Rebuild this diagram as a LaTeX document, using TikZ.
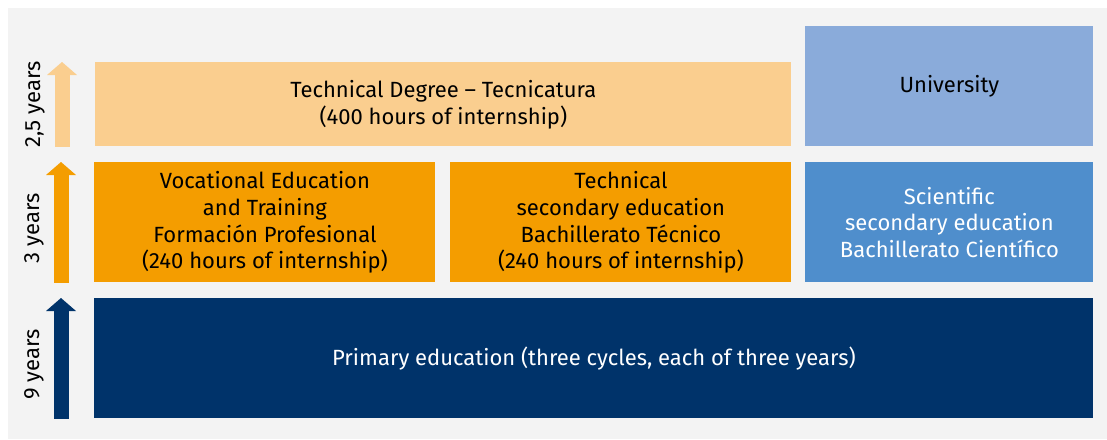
\documentclass[tikz,border=0pt]{standalone}
\usepackage{fontspec}
\setmainfont{Fira Sans}
\usetikzlibrary{arrows.meta}
\definecolor{bggray}{HTML}{F3F3F3}
\definecolor{ltorange}{HTML}{FACE8F}
\definecolor{midorange}{HTML}{F49D00}
\definecolor{navy}{HTML}{00336A}
\definecolor{ltblue}{HTML}{8AABDA}
\definecolor{midblue}{HTML}{4F8ECC}
\tikzset{
	box/.style={anchor=north west, inner sep=0pt, align=center, minimum height=60pt},
	yarrow/.style={line width=7.5pt, -{Triangle[length=6.5pt 0 0, width=15pt 0 0, line width=0pt]}}
}
\begin{document}
\begin{tikzpicture}[x=0.5pt, y=-0.5pt, font=\fontsize{11}{13.4}\selectfont]
	\useasboundingbox (0,0) rectangle (1107,439);
	\fill[bggray] (8,8) rectangle (1107,439);
	% boxes
	\node[box, fill=ltorange, minimum width=348pt, minimum height=42pt] (tec) at (95,62) {Technical Degree -- Tecnicatura\\(400 hours of internship)};
	\node[box, fill=ltblue, minimum width=144pt] (uni) at (805,26) {University};
	\node[box, fill=midorange, minimum width=170.5pt] (voc) at (94,162) {Vocational Education\\and Training\\Formación Profesional\\(240 hours of internship)};
	\node[box, fill=midorange, minimum width=170.5pt] (tsec) at (450,162) {Technical\\secondary education\\Bachillerato Técnico\\(240 hours of internship)};
	\node[box, fill=midblue, text=white, minimum width=144pt] (sci) at (805,162) {Scientific\\secondary education\\Bachillerato Científico};
	\node[box, fill=navy, text=white, minimum width=499.5pt] (prim) at (94,298) {Primary education (three cycles, each of three years)};
	% years
	\foreach \b/\c/\s/\t in {tec/ltorange/0/{2,5 years}, voc/midorange/-3/3 years, prim/navy/-3/9 years}{
		\draw[yarrow, \c] ([xshift=-16.5pt]\b.south west) -- ([xshift=-16.5pt]\b.north west);
		\node[rotate=90] (lab-\b) at ([xshift=-30pt, yshift=\s pt]\b.west) {\t};
	}
\end{tikzpicture}
\end{document}
